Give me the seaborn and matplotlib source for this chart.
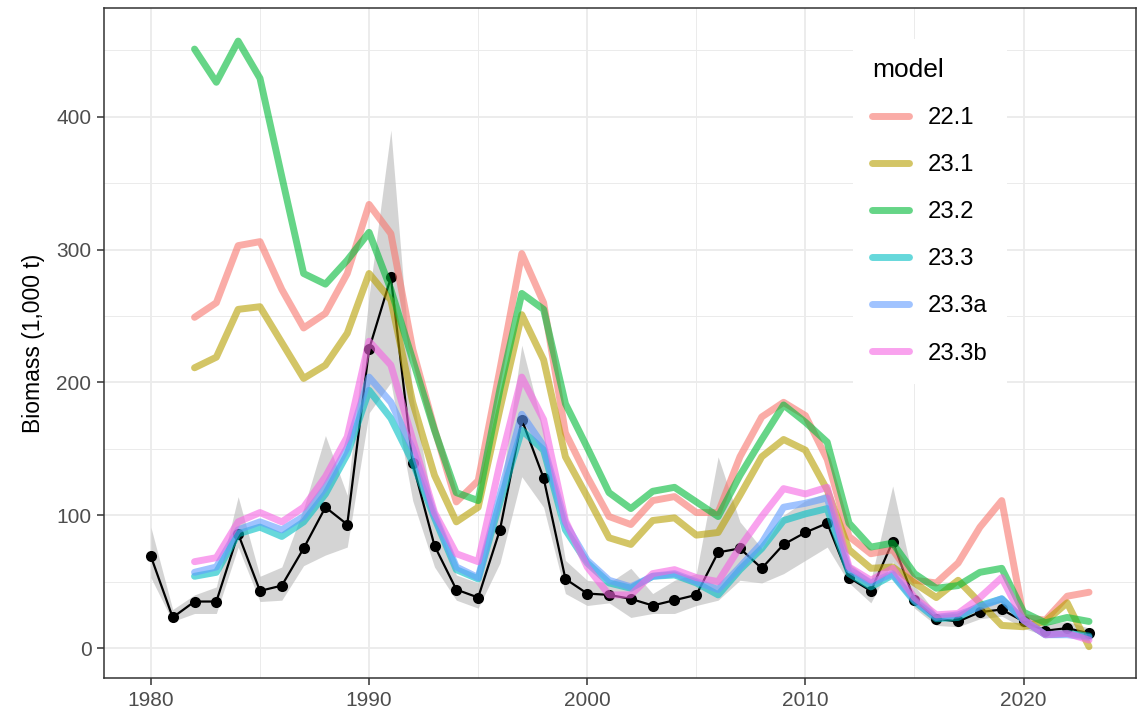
import numpy as np
import pandas as pd
import matplotlib
matplotlib.use("Agg")
import matplotlib.pyplot as plt
from matplotlib.lines import Line2D
import seaborn as sns

# Observed survey biomass (1,000 t) with its interval
obs_years = list(range(1980, 2024))
obs_biomass = [69, 23, 35, 35, 86, 43, 47, 75, 106, 93, 225, 279, 139, 77, 44, 38, 89, 172, 128, 52,
               41, 40, 37, 32, 36, 40, 72, 75, 60, 78, 87, 94, 53, 43, 80, 36, 22, 20, 27, 29,
               20, 13, 15, 11]
obs_lower = [53, 20, 26, 26, 76, 35, 36, 62, 70, 76, 177, 200, 111, 61, 36, 30, 64, 129, 106, 41,
             32, 34, 23, 26, 26, 32, 36, 51, 49, 56, 66, 76, 49, 34, 65, 30, 17, 16, 22, 24,
             15, 9, 10, 8]
obs_upper = [91, 29, 40, 46, 114, 54, 61, 105, 160, 115, 265, 390, 190, 100, 55, 49, 115, 228, 164, 66,
             51, 49, 60, 41, 51, 56, 144, 95, 75, 100, 111, 117, 64, 51, 122, 47, 26, 27, 33, 36,
             25, 18, 20, 15]

# Model-estimated survey biomass, 1982-2023
model_years = list(range(1982, 2024))
models = ["22.1", "23.1", "23.2", "23.3", "23.3a", "23.3b"]
m22_1 = [249, 260, 303, 306, 270, 241, 252, 282, 334, 312, 225, 165, 110, 126, 210, 297, 260, 162, 129, 99,
         93, 111, 114, 102, 102, 144, 174, 185, 175, 142, 84, 71, 74, 51, 49, 64, 91, 111, 23, 21, 39, 42]
m23_1 = [211, 219, 255, 257, 230, 203, 213, 237, 282, 262, 185, 130, 95, 106, 180, 251, 217, 144, 114, 83,
         78, 96, 98, 85, 87, 115, 144, 157, 149, 119, 74, 60, 61, 49, 38, 51, 34, 17, 16, 20, 34, 1]
m23_2 = [451, 426, 457, 429, 355, 282, 274, 292, 313, 270, 217, 164, 117, 111, 195, 267, 255, 184, 151, 117,
         105, 118, 121, 110, 99, 130, 157, 183, 170, 155, 94, 76, 79, 56, 45, 47, 57, 60, 27, 19, 23, 20]
m23_3 = [54, 57, 86, 91, 84, 95, 116, 146, 194, 173, 140, 98, 59, 52, 110, 164, 149, 89, 64, 49,
         45, 54, 55, 49, 40, 59, 75, 96, 101, 105, 56, 46, 55, 35, 22, 23, 32, 37, 21, 10, 11, 9]
m23_3a = [57, 61, 89, 95, 89, 99, 121, 151, 204, 185, 150, 100, 61, 53, 115, 176, 152, 94, 66, 51,
          46, 54, 56, 50, 44, 61, 79, 106, 109, 113, 59, 49, 56, 36, 23, 25, 31, 37, 21, 10, 10, 8]
m23_3b = [65, 68, 95, 102, 95, 106, 129, 159, 231, 213, 157, 102, 71, 65, 139, 204, 172, 96, 61, 40,
          40, 56, 59, 53, 50, 76, 99, 120, 116, 121, 61, 51, 60, 38, 25, 26, 38, 53, 21, 10, 11, 6]

palette = ["#F8766D", "#B79F00", "#00BA38", "#00BFC4", "#619CFF", "#F564E3"]

model_df = pd.concat([
    pd.DataFrame({"year": model_years, "biomass": vals, "model": name})
    for name, vals in zip(models, [m22_1, m23_1, m23_2, m23_3, m23_3a, m23_3b])
], ignore_index=True)
obs_df = pd.DataFrame({"year": obs_years, "biomass": obs_biomass, "lo": obs_lower, "hi": obs_upper})

sns.set_theme(style="white")
plt.rcParams["font.family"] = ["Liberation Sans", "DejaVu Sans"]
plt.rcParams["text.color"] = "black"

fig = plt.figure(figsize=(11.39, 7.19), dpi=100)
ax = fig.add_axes([0.0913, 0.057, 0.906, 0.932])

# grey interval ribbon
ax.fill_between(obs_df["year"], obs_df["lo"], obs_df["hi"], color="#BEBEBE", alpha=0.65,
                linewidth=0, zorder=1)
# observed line and points
sns.lineplot(data=obs_df, x="year", y="biomass", color="black", linewidth=1.6,
             marker="o", markersize=8, markeredgewidth=0, ax=ax, zorder=2, legend=False)
# model fits
sns.lineplot(data=model_df, x="year", y="biomass", hue="model", hue_order=models,
             palette=palette, linewidth=5, alpha=0.6, ax=ax, zorder=3, legend=False,
             sort=True)

ax.set_xlim(1977.85, 2025.15)
ax.set_ylim(-22.6, 482)
ax.set_xticks([1980, 1990, 2000, 2010, 2020])
ax.set_xticks([1985, 1995, 2005, 2015], minor=True)
ax.set_yticks([0, 100, 200, 300, 400])
ax.set_yticks([50, 150, 250, 350, 450], minor=True)
ax.grid(which="major", color="#EBEBEB", linewidth=1.3)
ax.grid(which="minor", color="#EBEBEB", linewidth=0.7)
ax.set_axisbelow(True)
for s in ax.spines.values():
    s.set_color("#333333")
    s.set_linewidth(1.1)
ax.tick_params(axis="both", which="major", length=5, width=1.1, color="#333333",
               labelsize=15, labelcolor="#4D4D4D", pad=4, left=True, bottom=True)
ax.tick_params(axis="both", which="minor", length=0)
ax.set_xlabel("")
ax.set_ylabel("Biomass (1,000 t)", fontsize=16.5, color="black", labelpad=8)

handles = [Line2D([0], [0], color=c, linewidth=5, alpha=0.6) for c in palette]
leg = ax.legend(handles, models, title="model", loc="upper left",
                bbox_to_anchor=(0.714, 0.9715), frameon=True, fontsize=17.2,
                title_fontsize=19, handlelength=1.55, handletextpad=0.8,
                labelspacing=1.05, borderpad=0.8, alignment="left")
leg.get_frame().set_facecolor("white")
leg.get_frame().set_edgecolor("none")
leg.get_frame().set_alpha(1)
leg.get_frame().set_boxstyle("square", pad=0)
for t in leg.get_texts():
    t.set_color("black")
leg.get_title().set_color("black")

fig.savefig("out.png", dpi=100)
